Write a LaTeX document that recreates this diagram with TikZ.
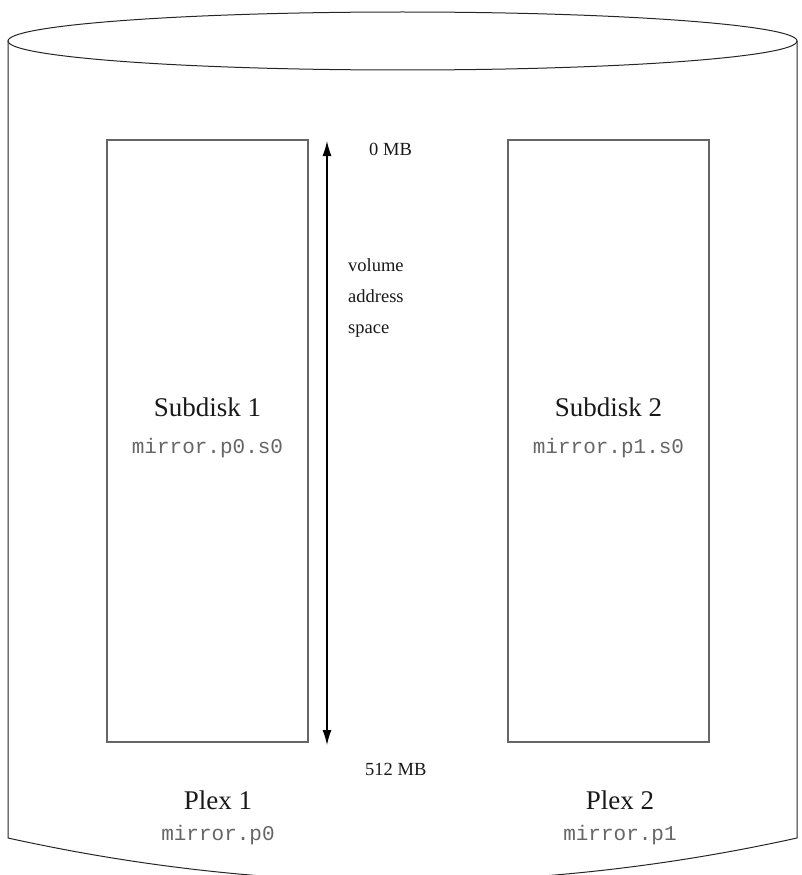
\documentclass[tikz,border=0pt]{standalone}
\usepackage{fontspec}
\setmainfont{Liberation Serif}
\setmonofont{Liberation Mono}
\usetikzlibrary{arrows.meta}
\tikzset{
  outline/.style={draw=black!85, line width=1pt},
  diskbox/.style={draw=black!60, line width=1.2pt},
  bigtxt/.style={font=\fontsize{27}{30}\selectfont, text=black!90, inner sep=0pt},
  monotxt/.style={font=\ttfamily\fontsize{21}{24}\selectfont, text=black!60, inner sep=0pt},
  smalltxt/.style={font=\fontsize{18.5}{31}\selectfont, text=black!90, inner sep=0pt, align=left},
  addrarrow/.style={line width=1.2pt, >={Latex[length=15pt,width=9pt]}, <->},
}
\begin{document}
\begin{tikzpicture}[x=1pt,y=-1pt]
\useasboundingbox (0,0) rectangle (802,875);
% cylinder
\begin{scope}
\clip (0,0) rectangle (802,875);
\draw[outline] (402.5,41) ellipse [x radius=394.5pt, y radius=29pt];
\draw[outline] (8,41) -- (8,838) .. controls (271,896) and (534,896) .. (797,838) -- (797,41);
\end{scope}
% subdisks
\node[diskbox, minimum width=201pt, minimum height=602pt, inner sep=0pt] (sd1) at (207.5,441) {};
\node[diskbox, minimum width=201pt, minimum height=602pt, inner sep=0pt] (sd2) at (608.5,441) {};
\node[bigtxt] (sd1t) at (207.5,407) {Subdisk 1};
\node[monotxt] (sd1n) at (207.5,448) {mirror.p0.s0};
\node[bigtxt] (sd2t) at (608.5,407) {Subdisk 2};
\node[monotxt] (sd2n) at (608.5,448) {mirror.p1.s0};
% address arrow
\coordinate (atop) at (327,141);
\coordinate (abot) at (327,745);
\draw[addrarrow] (atop) -- (abot);
\node[smalltxt, anchor=west] (zero) at (369,149) {0 MB};
\node[smalltxt, anchor=north west] (vas) at (348,258) {volume\\address\\space};
\node[smalltxt, anchor=west] (end) at (365,769) {512 MB};
% plexes
\node[bigtxt] (p1t) at (218,800) {Plex 1};
\node[monotxt] (p1n) at (218,835) {mirror.p0};
\node[bigtxt] (p2t) at (620,800) {Plex 2};
\node[monotxt] (p2n) at (620,835) {mirror.p1};
\end{tikzpicture}
\end{document}
